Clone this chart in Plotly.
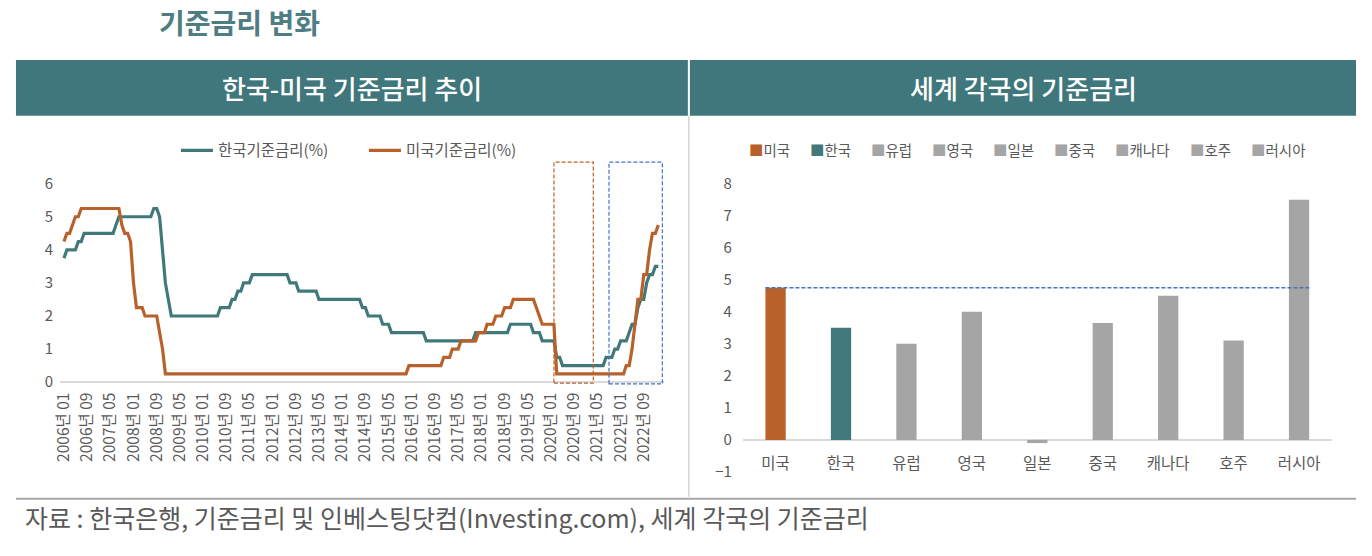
import plotly.graph_objects as go
import pandas as pd

# ---------------- data ----------------
# Monthly policy rates, 2006-01 .. 2023-02 (one line per year)
kr_rate = [
    3.75, 4.0, 4.0, 4.0, 4.0, 4.25, 4.25, 4.5, 4.5, 4.5, 4.5, 4.5,      # 2006
    4.5, 4.5, 4.5, 4.5, 4.5, 4.5, 4.75, 5.0, 5.0, 5.0, 5.0, 5.0,        # 2007
    5.0, 5.0, 5.0, 5.0, 5.0, 5.0, 5.0, 5.25, 5.25, 5.0, 4.0, 3.0,       # 2008
    2.5, 2.0, 2.0, 2.0, 2.0, 2.0, 2.0, 2.0, 2.0, 2.0, 2.0, 2.0,         # 2009
    2.0, 2.0, 2.0, 2.0, 2.0, 2.0, 2.25, 2.25, 2.25, 2.25, 2.5, 2.5,     # 2010
    2.75, 2.75, 3.0, 3.0, 3.0, 3.25, 3.25, 3.25, 3.25, 3.25, 3.25, 3.25,  # 2011
    3.25, 3.25, 3.25, 3.25, 3.25, 3.25, 3.0, 3.0, 3.0, 2.75, 2.75, 2.75,  # 2012
    2.75, 2.75, 2.75, 2.75, 2.5, 2.5, 2.5, 2.5, 2.5, 2.5, 2.5, 2.5,     # 2013
    2.5, 2.5, 2.5, 2.5, 2.5, 2.5, 2.5, 2.25, 2.25, 2.0, 2.0, 2.0,       # 2014
    2.0, 2.0, 1.75, 1.75, 1.75, 1.5, 1.5, 1.5, 1.5, 1.5, 1.5, 1.5,      # 2015
    1.5, 1.5, 1.5, 1.5, 1.5, 1.25, 1.25, 1.25, 1.25, 1.25, 1.25, 1.25,  # 2016
    1.25, 1.25, 1.25, 1.25, 1.25, 1.25, 1.25, 1.25, 1.25, 1.25, 1.5, 1.5,  # 2017
    1.5, 1.5, 1.5, 1.5, 1.5, 1.5, 1.5, 1.5, 1.5, 1.5, 1.75, 1.75,       # 2018
    1.75, 1.75, 1.75, 1.75, 1.75, 1.75, 1.5, 1.5, 1.5, 1.25, 1.25, 1.25,  # 2019
    1.25, 1.25, 0.75, 0.75, 0.5, 0.5, 0.5, 0.5, 0.5, 0.5, 0.5, 0.5,     # 2020
    0.5, 0.5, 0.5, 0.5, 0.5, 0.5, 0.5, 0.75, 0.75, 0.75, 1.0, 1.0,      # 2021
    1.25, 1.25, 1.25, 1.5, 1.75, 1.75, 2.25, 2.5, 2.5, 3.0, 3.25, 3.25,  # 2022
    3.5, 3.5,                                                            # 2023
]
us_rate = [
    4.25, 4.5, 4.5, 4.75, 5.0, 5.0, 5.25, 5.25, 5.25, 5.25, 5.25, 5.25,  # 2006
    5.25, 5.25, 5.25, 5.25, 5.25, 5.25, 5.25, 5.25, 4.75, 4.5, 4.5, 4.25,  # 2007
    3.0, 2.25, 2.25, 2.25, 2.0, 2.0, 2.0, 2.0, 2.0, 1.5, 1.0, 0.25,     # 2008
    0.25, 0.25, 0.25, 0.25, 0.25, 0.25, 0.25, 0.25, 0.25, 0.25, 0.25, 0.25,  # 2009
    0.25, 0.25, 0.25, 0.25, 0.25, 0.25, 0.25, 0.25, 0.25, 0.25, 0.25, 0.25,  # 2010
    0.25, 0.25, 0.25, 0.25, 0.25, 0.25, 0.25, 0.25, 0.25, 0.25, 0.25, 0.25,  # 2011
    0.25, 0.25, 0.25, 0.25, 0.25, 0.25, 0.25, 0.25, 0.25, 0.25, 0.25, 0.25,  # 2012
    0.25, 0.25, 0.25, 0.25, 0.25, 0.25, 0.25, 0.25, 0.25, 0.25, 0.25, 0.25,  # 2013
    0.25, 0.25, 0.25, 0.25, 0.25, 0.25, 0.25, 0.25, 0.25, 0.25, 0.25, 0.25,  # 2014
    0.25, 0.25, 0.25, 0.25, 0.25, 0.25, 0.25, 0.25, 0.25, 0.25, 0.25, 0.5,   # 2015
    0.5, 0.5, 0.5, 0.5, 0.5, 0.5, 0.5, 0.5, 0.5, 0.5, 0.5, 0.75,        # 2016
    0.75, 0.75, 1.0, 1.0, 1.0, 1.25, 1.25, 1.25, 1.25, 1.25, 1.25, 1.5,  # 2017
    1.5, 1.5, 1.75, 1.75, 1.75, 2.0, 2.0, 2.0, 2.25, 2.25, 2.25, 2.5,   # 2018
    2.5, 2.5, 2.5, 2.5, 2.5, 2.5, 2.5, 2.25, 2.0, 1.75, 1.75, 1.75,     # 2019
    1.75, 1.75, 0.25, 0.25, 0.25, 0.25, 0.25, 0.25, 0.25, 0.25, 0.25, 0.25,  # 2020
    0.25, 0.25, 0.25, 0.25, 0.25, 0.25, 0.25, 0.25, 0.25, 0.25, 0.25, 0.25,  # 2021
    0.25, 0.25, 0.5, 0.5, 1.0, 1.75, 2.5, 2.5, 3.25, 3.25, 4.0, 4.5,    # 2022
    4.5, 4.75,                                                           # 2023
]
series_names = ["한국기준금리(%)", "미국기준금리(%)"]

countries = ["미국", "한국", "유럽", "영국", "일본", "중국", "캐나다", "호주", "러시아"]
policy_rates = [4.75, 3.5, 3.0, 4.0, -0.1, 3.65, 4.5, 3.1, 7.5]
us_reference_level = 4.75

# highlighted periods on the left chart
zero_rate_period = ("2020-02-01", "2021-03-20")
hike_period = ("2021-09-01", "2023-03-15")

# ---------------- style ----------------
W, H = 1356, 540
TEAL = "#41797B"
ORANGE = "#B8612A"
GRAY_BAR = "#A5A5A5"
HEADER = "#3F777C"
TXT = "#595959"
FONT = "Noto Sans CJK KR"


def px(x):
    # target page pixel -> paper fraction (calibrated against the rendered page)
    xi = 14 + (x - 13) / 0.9935
    return (xi - 8) / W


def py(y):
    yi = 60 + (y - 62) / 0.9636
    return 1 - (yi - 8) / H


dates = pd.date_range("2006-01-01", periods=len(kr_rate), freq="MS")
tick_dates = pd.date_range("2006-01-01", "2022-09-01", freq="8MS")
tick_text = [f"{d.year}년 {d.month:02d}" for d in tick_dates]

bar_colors = [ORANGE, TEAL] + [GRAY_BAR] * (len(countries) - 2)

fig = go.Figure()
fig.add_trace(go.Scatter(x=dates, y=kr_rate, name=series_names[0], mode="lines",
                         line=dict(color=TEAL, width=3.2), xaxis="x", yaxis="y"))
fig.add_trace(go.Scatter(x=dates, y=us_rate, name=series_names[1], mode="lines",
                         line=dict(color=ORANGE, width=3.2), xaxis="x", yaxis="y"))
fig.add_trace(go.Bar(x=countries, y=policy_rates, marker=dict(color=bar_colors, line=dict(width=0)),
                     width=0.31, xaxis="x2", yaxis="y2", showlegend=False))

# left y: 0 at 383px, 6 at 184px (page pixels)
unit_l = (383 - 184) / 6
y_lo, y_hi = -0.1, 6.7
fig.update_layout(
    width=W, height=H,
    margin=dict(l=0, r=0, t=0, b=0),
    paper_bgcolor="white", plot_bgcolor="white",
    font=dict(family=FONT, color=TXT),
    xaxis=dict(domain=[px(58), px(662)], range=["2005-11-20", "2023-03-31"], type="date",
               tickvals=tick_dates, ticktext=tick_text, tickangle=-90,
               tickfont=dict(size=15.5, color=TXT), showgrid=False, showline=False,
               zeroline=False, ticks="", anchor="y", ticklabelstandoff=3),
    yaxis=dict(domain=[py(383 + unit_l * -y_lo), py(383 - unit_l * y_hi)], range=[y_lo, y_hi],
               tickvals=[0, 1, 2, 3, 4, 5, 6], tickfont=dict(size=15, color=TXT),
               showgrid=False, zeroline=True, zerolinecolor="#D9D9D9", zerolinewidth=1.5,
               showline=False, ticks="", anchor="x", ticklabelstandoff=6),
    xaxis2=dict(domain=[px(741), px(1330)], range=[-0.5, 8.5], anchor="free", position=py(441),
                tickfont=dict(size=15.5, color=TXT), showgrid=False, showline=False, ticks="",
                ticklabelstandoff=13),
    yaxis2=dict(domain=[py(473), py(184)], range=[-1, 8], dtick=1, tickfont=dict(size=15, color=TXT),
                showgrid=False, zeroline=True, zerolinecolor="#D9D9D9", zerolinewidth=1.5,
                showline=False, ticks="", anchor="x2", ticklabelstandoff=10),
    barmode="overlay",
    showlegend=True,
    legend=dict(orientation="h", x=px(174), y=py(151), xanchor="left", yanchor="middle",
                font=dict(size=15.5, color=TXT), bgcolor="rgba(0,0,0,0)",
                entrywidth=141, entrywidthmode="pixels", itemwidth=32),
)

DASH = "4px,2px"
shapes = [
    # header bars
    dict(type="rect", xref="paper", yref="paper", x0=px(14), x1=px(686), y0=py(116), y1=py(60),
         fillcolor=HEADER, line=dict(width=0), layer="below"),
    dict(type="rect", xref="paper", yref="paper", x0=px(688), x1=px(1357), y0=py(116), y1=py(60),
         fillcolor=HEADER, line=dict(width=0), layer="below"),
    # vertical divider
    dict(type="line", xref="paper", yref="paper", x0=px(687), x1=px(687), y0=py(116), y1=py(498),
         line=dict(color="#BFBFBF", width=1)),
    # bottom rule
    dict(type="line", xref="paper", yref="paper", x0=px(14), x1=px(1357), y0=py(500), y1=py(500),
         line=dict(color="#A6A6A6", width=2)),
    # highlighted periods
    dict(type="rect", xref="x", yref="y", x0=zero_rate_period[0], x1=zero_rate_period[1],
         y0=-0.03, y1=6.65, line=dict(color=ORANGE, width=1.2, dash=DASH)),
    dict(type="rect", xref="x", yref="y", x0=hike_period[0], x1=hike_period[1],
         y0=-0.05, y1=6.65, line=dict(color="#4472C4", width=1.2, dash=DASH)),
    # US reference level on the right chart
    dict(type="line", xref="x2", yref="y2", x0=-0.155, x1=len(countries) - 1 + 0.155,
         y0=us_reference_level, y1=us_reference_level,
         line=dict(color="#4472C4", width=1.3, dash=DASH)),
]
fig.update_layout(shapes=shapes)

annotations = [
    dict(text="기준금리 변화", x=px(155), y=py(22), xref="paper", yref="paper", xanchor="left",
         yanchor="middle", showarrow=False, font=dict(size=28, color="#4E7E81", family=FONT, weight=700)),
    dict(text="한국-미국 기준금리 추이", x=px(350), y=py(88), xref="paper", yref="paper",
         xanchor="center", yanchor="middle", showarrow=False,
         font=dict(size=26, color="white", family=FONT, weight=500)),
    dict(text="세계 각국의 기준금리", x=px(1022), y=py(88), xref="paper", yref="paper",
         xanchor="center", yanchor="middle", showarrow=False,
         font=dict(size=26, color="white", family=FONT, weight=500)),
    dict(text="자료 : 한국은행, 기준금리 및 인베스팅닷컴(Investing.com), 세계 각국의 기준금리",
         x=px(22), y=py(518), xref="paper", yref="paper", xanchor="left", yanchor="middle",
         showarrow=False, borderpad=0, font=dict(size=25, color=TXT, family=FONT)),
]
# custom legend for the right chart
lx = 745
for name, col in zip(countries, bar_colors):
    annotations.append(dict(text=f'<span style="color:{col}">■</span>{name}', x=px(lx), y=py(150),
                            xref="paper", yref="paper", xanchor="left", yanchor="middle",
                            showarrow=False, font=dict(size=14.5, color=TXT, family=FONT)))
    lx += 33 + 14 * len(name)
fig.update_layout(annotations=annotations)

fig.write_html("out.html")
